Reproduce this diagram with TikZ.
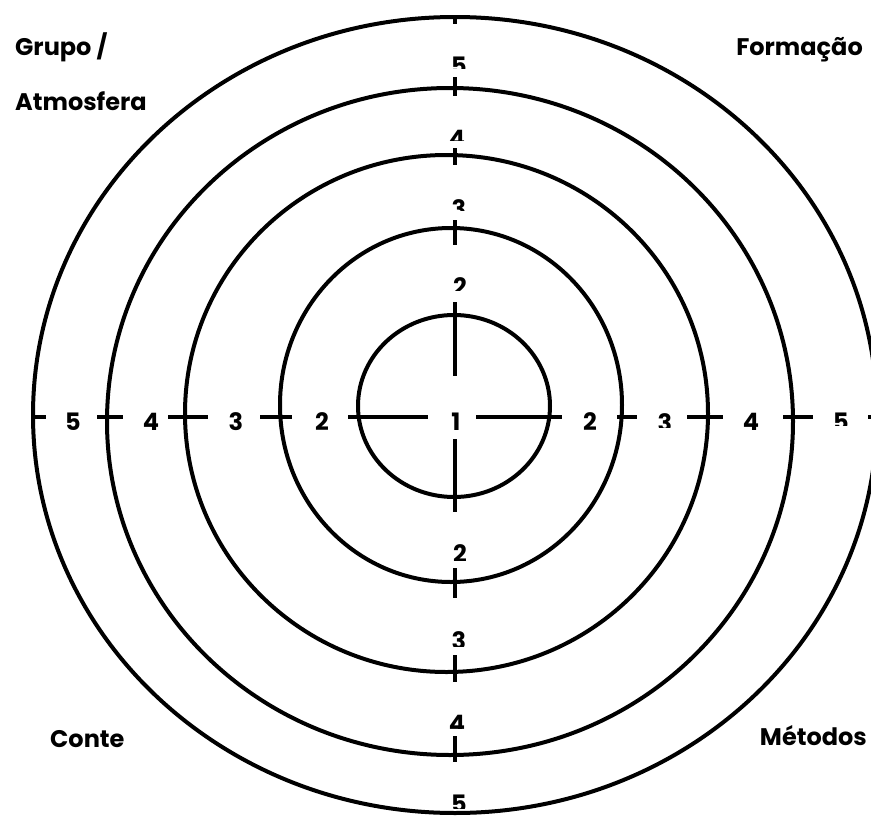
\documentclass[tikz,border=0pt]{standalone}
\usepackage{fontspec}
\setmainfont{Poppins}
\begin{document}
\begin{tikzpicture}[x=1pt,y=-1pt,
  ring/.style={line width=4pt},
  axis/.style={line width=4pt},
  lab/.style={font=\fontsize{24}{28}\selectfont\bfseries, inner sep=0pt},
  dig/.style={font=\fontsize{24}{26}\selectfont\bfseries, inner sep=0pt, anchor=base}]
\useasboundingbox (0,0) rectangle (871,817);
% rings
\draw[ring] (455,415) ellipse [x radius=422, y radius=398];
\draw[ring] (450,421.5) ellipse [x radius=343, y radius=333.5];
\draw[ring] (446.5,413.5) ellipse [x radius=261.5, y radius=258.5];
\draw[ring] (451,405) ellipse [x radius=171, y radius=177];
\draw[ring] (454,406) ellipse [x radius=96, y radius=91];
% horizontal axis pieces
\foreach \a/\b in {33/46, 97/123, 168/208, 260/292, 348/428, 476/562, 617/637, 687/723, 783/813, 868/875}
  \draw[axis] (\a,417) -- (\b,417);
% vertical axis pieces
\foreach \a/\b in {16/24, 77/96, 148/165, 220/245, 302/376, 439/512, 568/598, 655/682, 736/762}
  \draw[axis] (455,\a) -- (455,\b);
% horizontal digits (baseline 430)
\node[dig] (h5l) at (73,430) {5};
\node[dig] (h4l) at (151,430) {4};
\node[dig] (h3l) at (236,430) {3};
\node[dig] (h2l) at (322,430) {2};
\node[dig] (h1) at (456,430) {1};
\node[dig] (h2r) at (590,430) {2};
\begin{scope}\clip (640,400) rectangle (690,427);
\node[dig] (h3r) at (665,431) {3};\end{scope}
\node[dig] (h4r) at (751,430) {4};
\begin{scope}\clip (820,400) rectangle (871,425);
\node[dig] (h5r) at (841,430) {5};\end{scope}
% vertical digits, clipped as in the reference
\begin{scope}\clip (440,50) rectangle (480,68);
\node[dig] (v5t) at (459,74) {5};\end{scope}
\begin{scope}\clip (440,120) rectangle (480,140);
\node[dig] (v4t) at (457,147) {4};\end{scope}
\begin{scope}\clip (440,190) rectangle (480,210);
\node[dig] (v3t) at (459,217) {3};\end{scope}
\begin{scope}\clip (440,270) rectangle (480,290);
\node[dig] (v2t) at (460,295) {2};\end{scope}
\begin{scope}\clip (440,535) rectangle (480,560);
\node[dig] (v2b) at (460,562) {2};\end{scope}
\begin{scope}\clip (440,620) rectangle (480,646);
\node[dig] (v3b) at (459,649) {3};\end{scope}
\begin{scope}\clip (440,705) rectangle (480,728);
\node[dig] (v4b) at (457,732) {4};\end{scope}
\begin{scope}\clip (440,785) rectangle (480,808);
\node[dig] (v5b) at (459,812) {5};\end{scope}
% corner labels
\node[lab, anchor=base west] (grupo) at (15,55) {Grupo /};
\node[lab, anchor=base west] (atmos) at (15,110) {Atmosfera};
\node[lab, anchor=base east] (form) at (863,55) {Formação};
\node[lab, anchor=base west] (conte) at (50,747) {Conte};
\node[lab, anchor=base east] (metodos) at (867,745) {Métodos};
\end{tikzpicture}
\end{document}
